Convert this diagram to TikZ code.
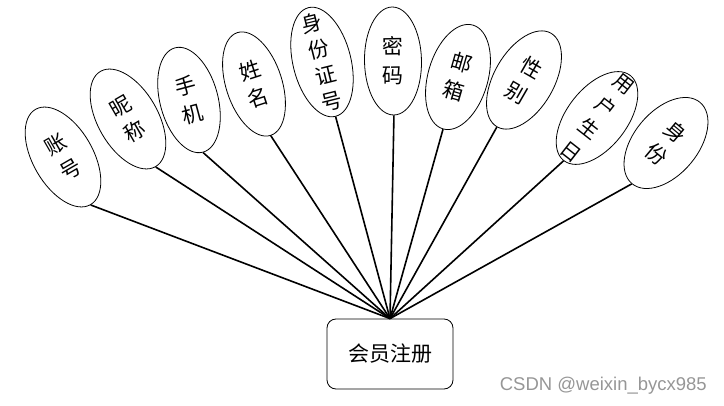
\documentclass[tikz,border=0pt]{standalone}
\usepackage{fontspec}
\newfontfamily\cjk{Noto Sans CJK SC}
\setsansfont{Liberation Sans}
\usetikzlibrary{shapes.geometric}
\definecolor{wm}{RGB}{150,150,150}
\begin{document}
\begin{tikzpicture}[x=1pt,y=-1pt,
  attr/.style={ellipse, draw, line width=0.8pt, inner sep=0pt},
  lab/.style={inner sep=0pt, align=center, font=\cjk\fontsize{21}{29}\selectfont},
  lab4/.style={inner sep=0pt, align=center, font=\cjk\fontsize{21}{27}\selectfont},
  lab5/.style={inner sep=0pt, align=center, font=\cjk\fontsize{20}{28.5}\selectfont},
  entity/.style={draw, rounded corners=9pt, line width=0.8pt, minimum width=126pt, minimum height=70pt, inner sep=0pt, font=\cjk\fontsize{21}{25}\selectfont},
  link/.style={line width=1.6pt}]
\useasboundingbox (0,0) rectangle (724,406);
\node[entity] (box) at (390,354) {会员注册};

\node[attr, rotate=30, minimum width=60pt, minimum height=110pt] (e1) at (63,157) {};
\node[lab, rotate=30] at (e1) {账\\号};
\node[attr, rotate=30, minimum width=60pt, minimum height=110pt] (e2) at (128,119) {};
\node[lab, rotate=30] at (e2) {昵\\称};
\node[attr, rotate=15, minimum width=58pt, minimum height=108pt] (e3) at (189,100) {};
\node[lab, rotate=15] at (e3) {手\\机};
\node[attr, rotate=18, minimum width=56pt, minimum height=108pt] (e4) at (254,84) {};
\node[lab, rotate=18] at (e4) {姓\\名};
\node[attr, rotate=14, minimum width=58pt, minimum height=112pt] (e5) at (322,62) {};
\node[lab4, rotate=14] at (e5) {身\\份\\证\\号};
\node[attr, rotate=1, minimum width=57pt, minimum height=108pt] (e6) at (393,61) {};
\node[lab, rotate=1] at (e6) {密\\码};
\node[attr, rotate=-16, minimum width=60pt, minimum height=108pt] (e7) at (458,77) {};
\node[lab, rotate=-16] at (e7) {邮\\箱};
\node[attr, rotate=-30, minimum width=60pt, minimum height=108pt] (e8) at (524,80) {};
\node[lab, rotate=-30] at (e8) {性\\别};
\node[attr, rotate=-38, minimum width=60pt, minimum height=108pt] (e9) at (597,118) {};
\node[lab5, rotate=-38] at (e9) {用\\户\\生\\日};
\node[attr, rotate=-40, minimum width=64pt, minimum height=106pt] (e10) at (666,143) {};
\node[lab, rotate=-40] at (e10) {身\\份};

\foreach \e in {e1,e2,e3,e4,e5,e6,e7,e8,e9,e10}
  \draw[link] (\e.south) -- (box.north);

\node[anchor=base east, inner sep=0pt, text=wm, font=\sffamily\fontsize{18.5}{20}\selectfont] (wmk) at (707,391) {CSDN @weixin\_bycx985};
\end{tikzpicture}
\end{document}
